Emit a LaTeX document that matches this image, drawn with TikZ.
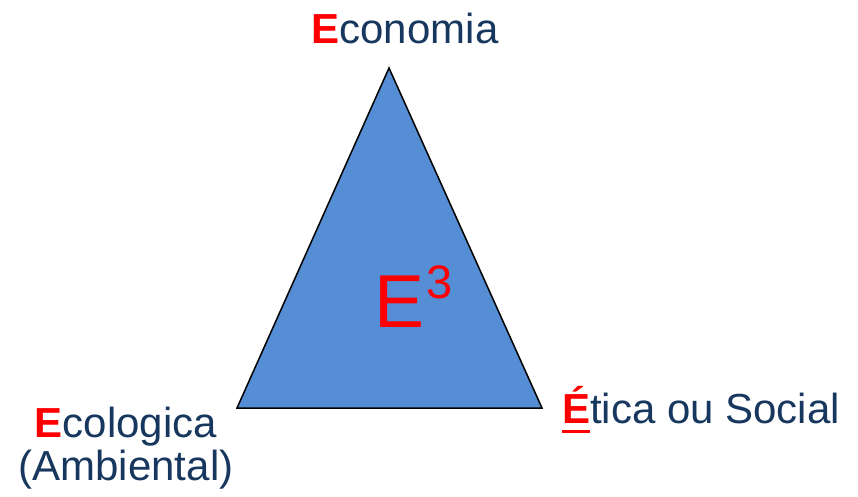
\documentclass[tikz,border=0pt]{standalone}
\usepackage{fontspec}
\setmainfont{Liberation Sans}
\definecolor{navy}{RGB}{23,55,94}
\definecolor{triblue}{RGB}{85,142,213}
\definecolor{ered}{RGB}{255,0,0}
\tikzset{
  lbl/.style={text=navy, font=\fontsize{42}{43}\selectfont, inner sep=0pt, anchor=base},
  tri/.style={fill=triblue, draw=black, line width=1.5pt, line join=miter},
}
\newcommand{\RE}[1]{{\color{ered}\bfseries #1}}
\newlength{\ulwd}
\newcommand{\ULRE}[1]{{\color{ered}\bfseries\settowidth{\ulwd}{#1}\rlap{#1}\rule[-10pt]{\ulwd}{3pt}}}
\begin{document}
\begin{tikzpicture}[x=1pt,y=-1pt]
\useasboundingbox (0,0) rectangle (858,496);
\coordinate (top) at (389,68);
\coordinate (bl) at (237,408);
\coordinate (br) at (542,408);
\draw[tri] (top) -- (bl) -- (br) -- cycle;
\node[lbl] (eco) at (405,43) {\RE{E}conomia};
\node[lbl] (eti) at (701,423) {\ULRE{É}tica ou Social};
\node[lbl, align=center] (ecol) at (126,480) {\RE{E}cologica\\(Ambiental)};
\node[text=ered, font=\fontsize{75}{75}\selectfont, inner sep=0pt, anchor=base] (e3) at (400,327) {E};
\node[text=ered, font=\fontsize{47}{47}\selectfont, inner sep=0pt, anchor=base west, xshift=1pt, yshift=29pt] (e3s) at (e3.base east) {3};
\end{tikzpicture}
\end{document}
